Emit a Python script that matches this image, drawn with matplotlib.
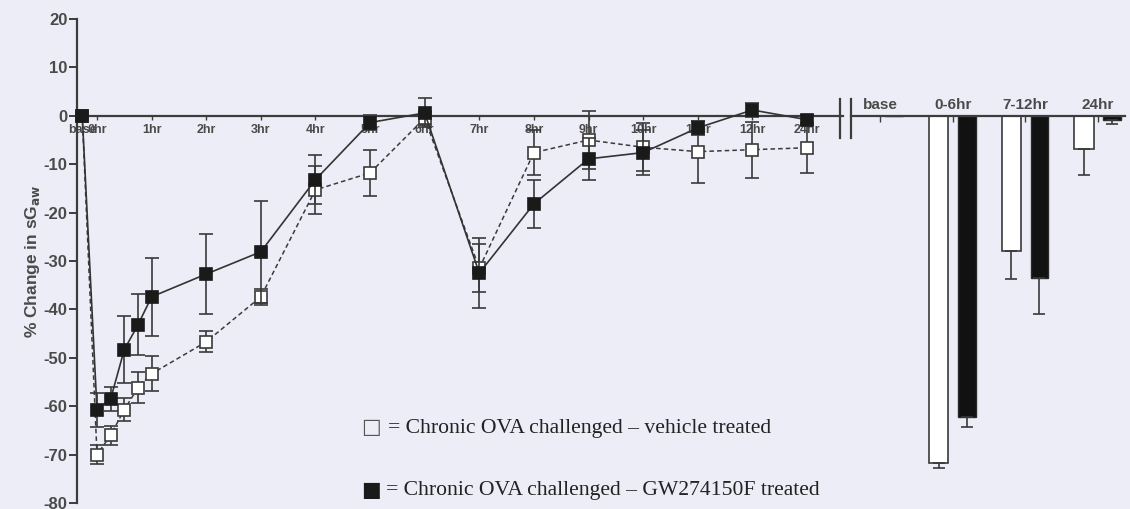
import matplotlib
matplotlib.use("Agg")
import matplotlib.pyplot as plt
import numpy as np

# ---------------- data ----------------
time_labels = ['base', '0hr', '1hr', '2hr', '3hr', '4hr', '5hr', '6hr', '7hr',
               '8hr', '9hr', '10hr', '11hr', '12hr', '24hr']
time_label_pos = [-0.27, 0, 1, 2, 3, 4, 5, 6, 7, 8, 9, 10, 11, 12, 13]

time_pos = [-0.27, 0, 0.25, 0.5, 0.75, 1, 2, 3, 4, 5, 6, 7, 8, 9, 10, 11, 12, 13]
vehicle_mean = [0, -70, -66, -60.7, -56.2, -53.3, -46.7, -37.4, -15.3, -11.8,
                -0.5, -31.5, -7.6, -5.0, -6.5, -7.4, -7.0, -6.6]
vehicle_sem = [0.5, 2.0, 2.0, 2.3, 3.2, 3.6, 2.2, 1.7, 5.0, 4.7,
               1.5, 5.0, 4.6, 6.0, 5.0, 6.4, 5.8, 5.2]
gw_mean = [0, -60.7, -58.5, -48.3, -43.2, -37.4, -32.7, -28.1, -13.2, -1.4,
           0.6, -32.5, -18.2, -8.9, -7.6, -2.5, 1.2, -0.8]
gw_sem = [0.5, 3.5, 2.5, 7.0, 6.3, 8.0, 8.2, 10.5, 5.0, 1.5,
          3.0, 7.3, 5.0, 4.3, 4.6, 1.5, 1.5, 1.0]

bar_groups = ['base', '0-6hr', '7-12hr', '24hr']
vehicle_bar = [0, -71.7, -27.9, -6.8]
vehicle_bar_err = [0, 1.0, 5.8, 5.4]
gw_bar = [0, -62.2, -33.5, -0.8]
gw_bar_err = [0, 2.0, 7.4, 0.8]

yticks = [20, 10, 0, -10, -20, -30, -40, -50, -60, -70, -80]

# ---------------- style ----------------
bg = '#ededf7'
axcol = '#3c3c3c'
txtcol = '#4a4a4a'
W, H = 1130, 509
fig = plt.figure(figsize=(W / 100, H / 100), dpi=100, facecolor=bg)

def fx(px):
    return px / W

def fy(py):
    return 1 - py / H

y_bot, y_top = fy(503), fy(19)

# ---------------- time-course axes ----------------
ax1 = fig.add_axes([fx(77), y_bot, fx(843) - fx(77), y_top - y_bot])
ax1.set_facecolor('none')
ax1.set_xlim(-0.366, 13.66)
ax1.set_ylim(-80, 20)
for s in ['top', 'right']:
    ax1.spines[s].set_visible(False)
ax1.spines['bottom'].set_position(('data', 0))
ax1.spines['left'].set_color(axcol)
ax1.spines['bottom'].set_color(axcol)
ax1.spines['left'].set_linewidth(1.6)
ax1.spines['bottom'].set_linewidth(1.6)

ax1.set_yticks(yticks)
ax1.set_yticklabels([str(v) for v in yticks], fontsize=12, fontweight='bold',
                    color=txtcol, family='Liberation Sans')
ax1.tick_params(axis='y', direction='out', length=6, width=1.4, color=axcol, pad=1)
ax1.set_xticks(time_label_pos)
ax1.set_xticklabels(time_labels, fontsize=9, fontweight='bold', color=txtcol,
                    family='Liberation Sans')
ax1.tick_params(axis='x', direction='out', length=3, width=1.0, color=axcol, pad=3)

ax1.errorbar(time_pos, vehicle_mean, yerr=vehicle_sem, fmt='s', ls=(0, (3, 2)),
             color='#3a3a3a', lw=1.1, mfc='white', mec='#3a3a3a', ms=9, mew=1.2,
             ecolor='#3a3a3a', elinewidth=1.2, capsize=5, capthick=1.2, zorder=3,
             clip_on=False)
ax1.errorbar(time_pos, gw_mean, yerr=gw_sem, fmt='s', ls='-',
             color='#333333', lw=1.2, mfc='#1a1a1a', mec='#1a1a1a', ms=9, mew=1.2,
             ecolor='#3a3a3a', elinewidth=1.2, capsize=5, capthick=1.2, zorder=4,
             clip_on=False)

ax1.set_ylabel('% Change in sG$_{\\mathbf{aw}}$', fontsize=12.5, fontweight='bold',
               color=txtcol, family='Liberation Sans', labelpad=1)

# ---------------- bar axes ----------------
ax2 = fig.add_axes([fx(851), y_bot, fx(1125) - fx(851), y_top - y_bot])
ax2.set_facecolor('none')
ax2.set_xlim(-0.399, 3.37)
ax2.set_ylim(-80, 20)
for s in ['left', 'right', 'bottom']:
    ax2.spines[s].set_visible(False)
ax2.spines['top'].set_position(('data', 0))
ax2.spines['top'].set_color(axcol)
ax2.spines['top'].set_linewidth(1.6)
ax2.set_yticks([])
ax2.xaxis.tick_top()
gx = np.arange(len(bar_groups))
ax2.set_xticks(gx)
ax2.set_xticklabels(bar_groups, fontsize=11, fontweight='bold', color=txtcol,
                    family='Liberation Sans')
ax2.tick_params(axis='x', direction='in', length=4, width=1.0, color=axcol, pad=3)

off, bw = 0.193, 0.27
ax2.bar(gx - off, vehicle_bar, width=bw, color='white', edgecolor='#3a3a3a', lw=1.2,
        yerr=[vehicle_bar_err, [0] * len(gx)], ecolor='#3a3a3a',
        error_kw=dict(elinewidth=1.2, capsize=4, capthick=1.2))
ax2.bar(gx + off, gw_bar, width=bw * 0.9, color='#111111', edgecolor='#2a2a2a', lw=1.0,
        yerr=[gw_bar_err, [0] * len(gx)], ecolor='#3a3a3a',
        error_kw=dict(elinewidth=1.2, capsize=4, capthick=1.2))

# axis break marks
for px in (840, 851):
    fig.add_artist(plt.Line2D([fx(px), fx(px)], [fy(99), fy(138)], color=axcol, lw=1.6))

# ---------------- legend ----------------
fig.text(fx(361), fy(427), '\u25a1', fontsize=15, family='DejaVu Sans',
         color='#555555', va='center', ha='left')
fig.text(fx(388), fy(428), '= Chronic OVA challenged \u2013 vehicle treated',
         fontsize=15.6, family='Liberation Serif', color='#222222', va='center', ha='left')
fig.text(fx(361), fy(490), '\u25a0', fontsize=15, family='DejaVu Sans',
         color='#1a1a1a', va='center', ha='left')
fig.text(fx(386), fy(491), '= Chronic OVA challenged \u2013 GW274150F treated',
         fontsize=15.6, family='Liberation Serif', color='#222222', va='center', ha='left')

fig.savefig('out.png', dpi=100, facecolor=bg)
